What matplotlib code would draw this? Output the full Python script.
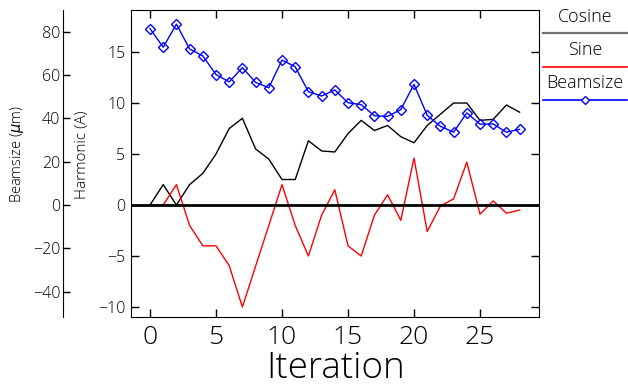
import matplotlib
matplotlib.use("Agg")
import matplotlib.pyplot as plt
from matplotlib.lines import Line2D
import numpy as np

iteration = list(range(29))
cosine = [0.0, 2.0, 0.0, 2.0, 3.1, 5.0, 7.5, 8.5, 5.5, 4.5, 2.5, 2.5, 6.3, 5.3, 5.2,
          7.0, 8.3, 7.3, 7.8, 6.7, 6.1, 7.8, 8.9, 10.0, 10.0, 8.3, 8.4, 9.8, 9.1]
sine = [0.0, 0.0, 2.0, -2.0, -4.0, -4.0, -5.95, -10.0, -6.0, -2.0, 2.0, -2.0, -5.0, -1.0, 1.5,
        -4.0, -5.0, -1.0, 1.0, -1.5, 4.6, -2.6, -0.1, 0.6, 4.2, -0.9, 0.4, -0.8, -0.5]
beamsize = [81.4, 72.8, 83.5, 72.0, 68.8, 60.2, 56.8, 63.4, 56.6, 54.1, 66.9, 63.8, 52.3, 50.3, 53.1,
            47.2, 46.3, 41.2, 40.9, 44.0, 55.7, 41.4, 36.3, 33.6, 42.5, 37.3, 37.4, 33.6, 34.9]

x_ticks = [0, 5, 10, 15, 20, 25]
harm_ticks = [-10, -5, 0, 5, 10, 15]
beam_ticks = [-40, -20, 0, 20, 40, 60, 80]

plt.rcParams["font.family"] = ["Open Sans", "Roboto", "DejaVu Sans"]
plt.rcParams["font.weight"] = 300
plt.rcParams["mathtext.fontset"] = "dejavusans"

W, H = 628, 387
fig = plt.figure(figsize=(W / 100, H / 100), dpi=100)
L, R, T, B = 131, 539, 10, 317
ax = fig.add_axes([L / W, 1 - B / H, (R - L) / W, (B - T) / H])

ax.plot(iteration, cosine, color="black", lw=1.0)
ax.plot(iteration, sine, color="red", lw=1.0)
ax.axhline(0, color="black", lw=2.0)
ax.set_xlim(-1.44, 29.47)
ax.set_ylim(-10.98, 19.12)
ax.set_xticks(x_ticks)
ax.set_yticks(harm_ticks)

ax2 = ax.twinx()
ax2.plot(iteration, beamsize, color="blue", lw=1.0, marker="D", ms=4.6,
         mfc="none", mec="blue", mew=1.0)
ax2.set_ylim(-51.7, 90.0)
ax2.set_yticks(beam_ticks)
ax2.spines["left"].set_position(("axes", -0.1667))
ax2.spines["left"].set_visible(True)
for s in ["right", "top", "bottom"]:
    ax2.spines[s].set_visible(False)
ax2.yaxis.set_ticks_position("left")
ax2.yaxis.set_label_position("left")
ax2.tick_params(axis="y", direction="in", length=5, width=1, labelsize=11.5, pad=2)

ax.tick_params(axis="both", direction="in", top=True, right=True, left=True, bottom=True,
               length=6, width=1)
ax.tick_params(axis="y", labelsize=11.5, pad=4)
ax.tick_params(axis="x", labelsize=19, pad=6)

fig.text(336 / W, 1 - 378.5 / H, "Iteration", ha="center", va="baseline", fontsize=26.5)
fig.text(17 / W, 1 - 154 / H, r"Beamsize ($\mu$m)", rotation=90, ha="center", va="center", fontsize=10.5)
fig.text(83 / W, 1 - 155 / H, "Harmonic (A)", rotation=90, ha="center", va="center", fontsize=11)

# legend table on the right
lx0, lx1, cx = 543 / W, 627 / W, 585 / W
entries = [("Cosine", 17, 33, dict(color="0.45", lw=1.6)),
           ("Sine", 50, 66.5, dict(color="red", lw=1.2)),
           ("Beamsize", 83, 100, dict(color="blue", lw=1.2))]
for label, ty, ly, st in entries:
    fig.text(cx, 1 - ty / H, label, ha="center", va="center", fontsize=13)
    fig.add_artist(Line2D([lx0, lx1], [1 - ly / H, 1 - ly / H], transform=fig.transFigure, **st))
fig.add_artist(Line2D([cx], [1 - 100 / H], transform=fig.transFigure, marker="D", ms=4.0,
                      mfc="white", mec="blue", mew=1.0, lw=0))

fig.savefig("out.png", dpi=100)
